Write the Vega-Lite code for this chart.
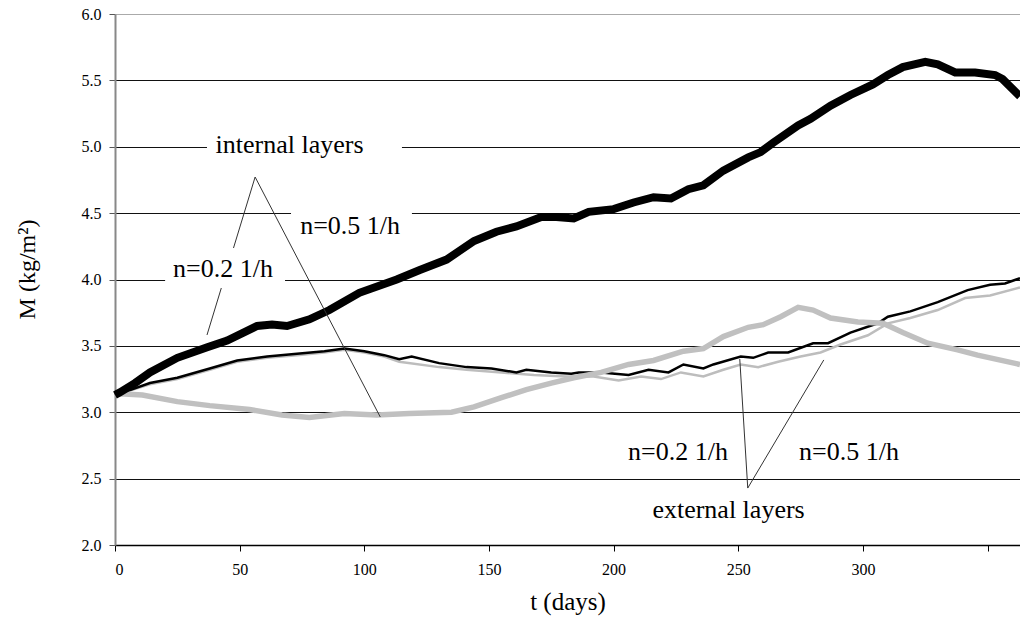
{
  "$schema": "https://vega.github.io/schema/vega-lite/v6.json",
  "autosize": "none",
  "width": 905,
  "height": 531,
  "padding": {"left": 115, "top": 14, "right": 0, "bottom": 75},
  "background": "white",
  "config": {
    "view": {"stroke": null},
    "font": "Liberation Serif",
    "axis": {"labelFont": "Liberation Serif", "titleFont": "Liberation Serif", "labelColor": "black", "titleColor": "black", "titleFontWeight": "normal"}
  },
  "datasets": {
    "curves": [
      {"s": "int02", "t": 0, "M": 3.13}, {"s": "int02", "t": 2, "M": 3.15}, {"s": "int02", "t": 8, "M": 3.22}, {"s": "int02", "t": 14, "M": 3.30}, {"s": "int02", "t": 25, "M": 3.41}, {"s": "int02", "t": 37, "M": 3.49}, {"s": "int02", "t": 45, "M": 3.54}, {"s": "int02", "t": 57, "M": 3.65}, {"s": "int02", "t": 63, "M": 3.66}, {"s": "int02", "t": 69, "M": 3.65}, {"s": "int02", "t": 78, "M": 3.70}, {"s": "int02", "t": 86, "M": 3.77}, {"s": "int02", "t": 98, "M": 3.90}, {"s": "int02", "t": 113, "M": 4.00}, {"s": "int02", "t": 122, "M": 4.07}, {"s": "int02", "t": 133, "M": 4.15}, {"s": "int02", "t": 144, "M": 4.29}, {"s": "int02", "t": 153, "M": 4.36}, {"s": "int02", "t": 161, "M": 4.40}, {"s": "int02", "t": 171, "M": 4.47}, {"s": "int02", "t": 177, "M": 4.47}, {"s": "int02", "t": 184, "M": 4.46}, {"s": "int02", "t": 190, "M": 4.51}, {"s": "int02", "t": 200, "M": 4.53}, {"s": "int02", "t": 208, "M": 4.58}, {"s": "int02", "t": 216, "M": 4.62}, {"s": "int02", "t": 223, "M": 4.61}, {"s": "int02", "t": 230, "M": 4.68}, {"s": "int02", "t": 236, "M": 4.71}, {"s": "int02", "t": 244, "M": 4.82}, {"s": "int02", "t": 254, "M": 4.92}, {"s": "int02", "t": 259, "M": 4.96}, {"s": "int02", "t": 264, "M": 5.03}, {"s": "int02", "t": 274, "M": 5.16}, {"s": "int02", "t": 279, "M": 5.21}, {"s": "int02", "t": 287, "M": 5.31}, {"s": "int02", "t": 295, "M": 5.39}, {"s": "int02", "t": 304, "M": 5.47}, {"s": "int02", "t": 310, "M": 5.54}, {"s": "int02", "t": 316, "M": 5.60}, {"s": "int02", "t": 325, "M": 5.64}, {"s": "int02", "t": 330, "M": 5.62}, {"s": "int02", "t": 337, "M": 5.56}, {"s": "int02", "t": 345, "M": 5.56}, {"s": "int02", "t": 353, "M": 5.54}, {"s": "int02", "t": 356, "M": 5.51}, {"s": "int02", "t": 363, "M": 5.38},

      {"s": "int05", "t": 0, "M": 3.13}, {"s": "int05", "t": 2, "M": 3.14}, {"s": "int05", "t": 11, "M": 3.13}, {"s": "int05", "t": 25, "M": 3.08}, {"s": "int05", "t": 38, "M": 3.05}, {"s": "int05", "t": 54, "M": 3.02}, {"s": "int05", "t": 67, "M": 2.98}, {"s": "int05", "t": 78, "M": 2.96}, {"s": "int05", "t": 92, "M": 2.99}, {"s": "int05", "t": 105, "M": 2.98}, {"s": "int05", "t": 118, "M": 2.99}, {"s": "int05", "t": 135, "M": 3.00}, {"s": "int05", "t": 144, "M": 3.04}, {"s": "int05", "t": 155, "M": 3.11}, {"s": "int05", "t": 165, "M": 3.17}, {"s": "int05", "t": 175, "M": 3.22}, {"s": "int05", "t": 184, "M": 3.26}, {"s": "int05", "t": 195, "M": 3.30}, {"s": "int05", "t": 206, "M": 3.36}, {"s": "int05", "t": 216, "M": 3.39}, {"s": "int05", "t": 228, "M": 3.46}, {"s": "int05", "t": 236, "M": 3.48}, {"s": "int05", "t": 244, "M": 3.57}, {"s": "int05", "t": 254, "M": 3.64}, {"s": "int05", "t": 260, "M": 3.66}, {"s": "int05", "t": 267, "M": 3.72}, {"s": "int05", "t": 274, "M": 3.79}, {"s": "int05", "t": 280, "M": 3.77}, {"s": "int05", "t": 287, "M": 3.71}, {"s": "int05", "t": 298, "M": 3.68}, {"s": "int05", "t": 308, "M": 3.67}, {"s": "int05", "t": 316, "M": 3.60}, {"s": "int05", "t": 326, "M": 3.52}, {"s": "int05", "t": 338, "M": 3.47}, {"s": "int05", "t": 346, "M": 3.43}, {"s": "int05", "t": 363, "M": 3.36},

      {"s": "ext02", "t": 0, "M": 3.13}, {"s": "ext02", "t": 2, "M": 3.14}, {"s": "ext02", "t": 14, "M": 3.22}, {"s": "ext02", "t": 25, "M": 3.26}, {"s": "ext02", "t": 38, "M": 3.33}, {"s": "ext02", "t": 49, "M": 3.39}, {"s": "ext02", "t": 61, "M": 3.42}, {"s": "ext02", "t": 73, "M": 3.44}, {"s": "ext02", "t": 84, "M": 3.46}, {"s": "ext02", "t": 92, "M": 3.48}, {"s": "ext02", "t": 100, "M": 3.46}, {"s": "ext02", "t": 108, "M": 3.43}, {"s": "ext02", "t": 114, "M": 3.40}, {"s": "ext02", "t": 119, "M": 3.42}, {"s": "ext02", "t": 130, "M": 3.37}, {"s": "ext02", "t": 141, "M": 3.34}, {"s": "ext02", "t": 151, "M": 3.33}, {"s": "ext02", "t": 161, "M": 3.30}, {"s": "ext02", "t": 165, "M": 3.32}, {"s": "ext02", "t": 175, "M": 3.30}, {"s": "ext02", "t": 183, "M": 3.29}, {"s": "ext02", "t": 186, "M": 3.30}, {"s": "ext02", "t": 195, "M": 3.30}, {"s": "ext02", "t": 206, "M": 3.28}, {"s": "ext02", "t": 214, "M": 3.32}, {"s": "ext02", "t": 222, "M": 3.30}, {"s": "ext02", "t": 228, "M": 3.36}, {"s": "ext02", "t": 236, "M": 3.33}, {"s": "ext02", "t": 240, "M": 3.36}, {"s": "ext02", "t": 251, "M": 3.42}, {"s": "ext02", "t": 256, "M": 3.41}, {"s": "ext02", "t": 262, "M": 3.45}, {"s": "ext02", "t": 270, "M": 3.45}, {"s": "ext02", "t": 280, "M": 3.52}, {"s": "ext02", "t": 286, "M": 3.52}, {"s": "ext02", "t": 295, "M": 3.60}, {"s": "ext02", "t": 306, "M": 3.67}, {"s": "ext02", "t": 310, "M": 3.72}, {"s": "ext02", "t": 319, "M": 3.76}, {"s": "ext02", "t": 330, "M": 3.83}, {"s": "ext02", "t": 342, "M": 3.92}, {"s": "ext02", "t": 351, "M": 3.96}, {"s": "ext02", "t": 357, "M": 3.97}, {"s": "ext02", "t": 363, "M": 4.01},

      {"s": "ext05", "t": 0, "M": 3.13}, {"s": "ext05", "t": 2, "M": 3.14}, {"s": "ext05", "t": 14, "M": 3.21}, {"s": "ext05", "t": 25, "M": 3.25}, {"s": "ext05", "t": 38, "M": 3.32}, {"s": "ext05", "t": 49, "M": 3.38}, {"s": "ext05", "t": 61, "M": 3.41}, {"s": "ext05", "t": 73, "M": 3.43}, {"s": "ext05", "t": 84, "M": 3.45}, {"s": "ext05", "t": 92, "M": 3.47}, {"s": "ext05", "t": 100, "M": 3.45}, {"s": "ext05", "t": 108, "M": 3.42}, {"s": "ext05", "t": 114, "M": 3.38}, {"s": "ext05", "t": 130, "M": 3.34}, {"s": "ext05", "t": 141, "M": 3.32}, {"s": "ext05", "t": 155, "M": 3.30}, {"s": "ext05", "t": 168, "M": 3.28}, {"s": "ext05", "t": 181, "M": 3.27}, {"s": "ext05", "t": 192, "M": 3.27}, {"s": "ext05", "t": 202, "M": 3.24}, {"s": "ext05", "t": 211, "M": 3.27}, {"s": "ext05", "t": 219, "M": 3.25}, {"s": "ext05", "t": 227, "M": 3.30}, {"s": "ext05", "t": 236, "M": 3.27}, {"s": "ext05", "t": 244, "M": 3.32}, {"s": "ext05", "t": 251, "M": 3.36}, {"s": "ext05", "t": 258, "M": 3.34}, {"s": "ext05", "t": 266, "M": 3.38}, {"s": "ext05", "t": 275, "M": 3.42}, {"s": "ext05", "t": 283, "M": 3.45}, {"s": "ext05", "t": 291, "M": 3.51}, {"s": "ext05", "t": 302, "M": 3.58}, {"s": "ext05", "t": 310, "M": 3.67}, {"s": "ext05", "t": 319, "M": 3.71}, {"s": "ext05", "t": 330, "M": 3.77}, {"s": "ext05", "t": 341, "M": 3.86}, {"s": "ext05", "t": 351, "M": 3.88}, {"s": "ext05", "t": 363, "M": 3.94}
    ],
    "leaders": [
      {"t": 56.2, "M": 4.772, "t2": 36.9, "M2": 3.582},
      {"t": 56.2, "M": 4.772, "t2": 106.4, "M2": 2.964},
      {"t": 253.8, "M": 2.429, "t2": 250.6, "M2": 3.401},
      {"t": 253.8, "M": 2.429, "t2": 284.3, "M2": 3.394}
    ],
    "masks": [
      {"t": 36.9, "t2": 115.1, "M": 4.900, "M2": 5.104},
      {"t": 70.6, "t2": 119.1, "M": 4.31, "M2": 4.56},
      {"t": 20.1, "t2": 68.2, "M": 3.936, "M2": 4.237}
    ],
    "labels": [
      {"t": 70.0, "M": 4.953, "label": "internal layers"},
      {"t": 94.3, "M": 4.343, "label": "n=0.5 1/h"},
      {"t": 43.3, "M": 4.021, "label": "n=0.2 1/h"},
      {"t": 225.8, "M": 2.640, "label": "n=0.2 1/h"},
      {"t": 294.4, "M": 2.640, "label": "n=0.5 1/h"},
      {"t": 246.1, "M": 2.203, "label": "external layers"}
    ]
  },
  "layer": [
    {
      "data": {"name": "curves"},
      "transform": [{"filter": "datum.s === 'ext05'"}],
      "mark": {"type": "line", "color": "#bdbdbd", "strokeWidth": 2.5},
      "encoding": {
        "x": {"field": "t", "type": "quantitative", "scale": {"domain": [0, 363], "nice": false, "zero": false},
          "axis": {"title": "t (days)", "titleFont": "Liberation Serif", "labelFont": "Liberation Serif", "titleFontSize": 25, "titlePadding": 12, "values": [0, 50, 100, 150, 200, 250, 300, 350], "labelExpr": "datum.value > 300 ? '' : datum.label", "labelFontSize": 16, "labelPadding": 10, "tickSize": 6, "tickColor": "black", "domainColor": "black", "domainWidth": 1.5, "grid": false}},
        "y": {"field": "M", "type": "quantitative", "scale": {"domain": [2, 6], "nice": false, "zero": false},
          "axis": {"title": "M (kg/m²)", "titleFont": "Liberation Serif", "labelFont": "Liberation Serif", "titleFontSize": 24, "titlePadding": 42, "titleY": 255, "values": [2, 2.5, 3, 3.5, 4, 4.5, 5, 5.5, 6], "format": ".1f", "labelFontSize": 16, "labelPadding": 8, "tickSize": 6, "tickColor": "#555", "domainColor": "#888", "domainWidth": 2,
            "grid": true, "gridColor": {"condition": {"test": "datum.value === 6", "value": "#aaaaaa"}, "value": "#111111"}, "gridWidth": 1}}
      }
    },
    {
      "data": {"name": "curves"},
      "transform": [{"filter": "datum.s === 'ext02'"}],
      "mark": {"type": "line", "color": "black", "strokeWidth": 2.5},
      "encoding": {"x": {"field": "t", "type": "quantitative"}, "y": {"field": "M", "type": "quantitative"}}
    },
    {
      "data": {"name": "curves"},
      "transform": [{"filter": "datum.s === 'int05'"}],
      "mark": {"type": "line", "color": "#c0c0c0", "strokeWidth": 5.5},
      "encoding": {"x": {"field": "t", "type": "quantitative"}, "y": {"field": "M", "type": "quantitative"}}
    },
    {
      "data": {"name": "curves"},
      "transform": [{"filter": "datum.s === 'int02'"}],
      "mark": {"type": "line", "color": "black", "strokeWidth": 8},
      "encoding": {"x": {"field": "t", "type": "quantitative"}, "y": {"field": "M", "type": "quantitative"}}
    },
    {
      "data": {"name": "leaders"},
      "mark": {"type": "rule", "color": "#333", "strokeWidth": 1},
      "encoding": {"x": {"field": "t", "type": "quantitative"}, "y": {"field": "M", "type": "quantitative"}, "x2": {"field": "t2"}, "y2": {"field": "M2"}}
    },
    {
      "data": {"name": "masks"},
      "mark": {"type": "rect", "color": "white"},
      "encoding": {"x": {"field": "t", "type": "quantitative"}, "y": {"field": "M", "type": "quantitative"}, "x2": {"field": "t2"}, "y2": {"field": "M2"}}
    },
    {
      "data": {"name": "labels"},
      "mark": {"type": "text", "font": "Liberation Serif", "fontSize": 26, "color": "black", "align": "center", "baseline": "alphabetic"},
      "encoding": {"x": {"field": "t", "type": "quantitative"}, "y": {"field": "M", "type": "quantitative"}, "text": {"field": "label"}}
    }
  ]
}
